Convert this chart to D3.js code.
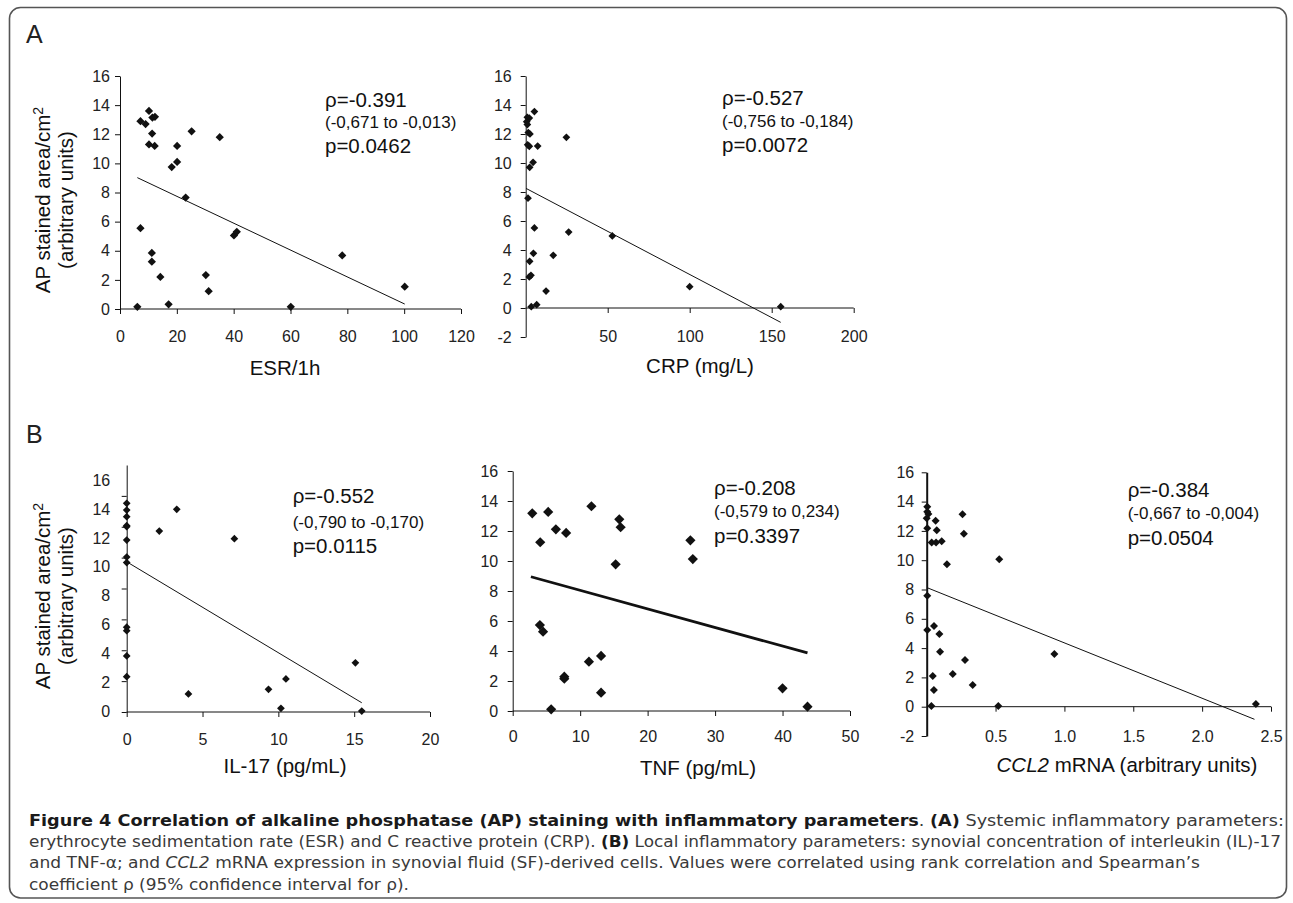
<!DOCTYPE html>
<html>
<head>
<meta charset="utf-8">
<script src="https://cdn.jsdelivr.net/npm/d3@7"></script>
<style>
  body { margin: 0; background: #fff; }
  svg text { font-family: "Liberation Sans", Arial, sans-serif; }
</style>
</head>
<body>
<svg id="fig" width="1293" height="903"></svg>
<script>
// values
const esrX = [6.1, 7.2, 9.0, 10.2, 11.4, 12.3, 11.3, 10.2, 12.2, 25.2, 20.1, 20.1, 18.2, 35.1, 23.1, 7.2, 40.1, 41.1, 11.2, 11.2, 14.2, 30.2, 31.2, 17.1, 60.1, 78.2, 100.2];
const esrY = [0.15, 12.9, 12.7, 13.6, 13.15, 13.2, 12.05, 11.3, 11.2, 12.2, 11.2, 10.1, 9.75, 11.8, 7.65, 5.55, 5.05, 5.3, 3.85, 3.25, 2.2, 2.33, 1.22, 0.32, 0.15, 3.68, 1.53];
const esrFit = [[6.1, 9.02], [100.2, 0.34]];
const esrStats = ["ρ=-0.391", "(-0,671 to -0,013)", "p=0.0462"];

const crpX = [1.0, 2.2, 0.6, 1.0, 5.3, 1.6, 2.6, 1.2, 2.2, 7.3, 24.8, 4.5, 2.4, 1.4, 5.3, 26.2, 52.8, 4.7, 16.8, 2.4, 2.2, 3.2, 12.4, 100, 6.7, 3.4, 155.5];
const crpY = [13.15, 13.1, 12.85, 12.65, 13.55, 12.1, 12.0, 11.25, 11.15, 11.17, 11.77, 10.05, 9.7, 7.57, 5.52, 5.24, 4.97, 3.77, 3.63, 3.22, 2.14, 2.25, 1.17, 1.47, 0.23, 0.09, 0.09];
const crpFit = [[0.2, 8.25], [155.5, -0.99]];
const crpStats = ["ρ=-0.527", "(-0,756 to -0,184)", "p=0.0072"];

const il17X = [0, 0, 0, 0, 0, 0, 0, 0, 0, 0, 0, 0, 2.15, 3.3, 7.1, 4.07, 9.35, 10.5, 10.17, 15.08, 15.5];
const il17Y = [13.52, 13.08, 12.65, 12.07, 12.0, 11.14, 10.04, 9.68, 5.49, 5.27, 3.63, 2.29, 11.72, 13.13, 11.23, 1.17, 1.47, 2.14, 0.24, 3.19, 0.06];
const il17Fit = [[0, 9.73], [15.5, 0.6]];
const il17Stats = ["ρ=-0.552", "(-0,790 to -0,170)", "p=0.0115"];

const tnfX = [2.9, 4.08, 5.26, 6.4, 7.92, 11.67, 15.8, 16.0, 15.26, 26.34, 26.7, 4.03, 4.5, 11.3, 13.1, 7.65, 7.65, 13.1, 5.7, 40.0, 43.7];
const tnfY = [13.18, 11.25, 13.27, 12.11, 11.87, 13.65, 12.78, 12.25, 9.78, 11.38, 10.13, 5.73, 5.29, 3.29, 3.67, 2.29, 2.15, 1.22, 0.11, 1.51, 0.29];
const tnfFit = [[2.7, 8.95], [43.7, 3.87]];
const tnfStats = ["ρ=-0.208", "(-0,579 to 0,234)", "p=0.3397"];

const ccl2X = [0.004, 0.004, 0.012, 0, 0.004, 0.065, 0.073, 0.036, 0.068, 0.109, 0.26, 0.27, 0.147, 0.527, 0.004, 0.004, 0.053, 0.092, 0.097, 0.278, 0.189, 0.044, 0.927, 0.052, 0.334, 0.034, 0.52, 2.39];
const ccl2Y = [13.65, 13.31, 13.15, 12.86, 12.18, 12.7, 12.04, 11.2, 11.2, 11.29, 13.13, 11.81, 9.72, 10.06, 7.58, 5.24, 5.51, 4.96, 3.75, 3.19, 2.23, 2.1, 3.6, 1.14, 1.48, 0.05, 0.05, 0.18];
const ccl2Fit = [[0.004, 8.12], [2.38, -0.86]];
const ccl2Stats = ["ρ=-0.384", "(-0,667 to -0,004)", "p=0.0504"];

const apTicks = [0, 2, 4, 6, 8, 10, 12, 14, 16];
const apTicksNeg = [-2, 0, 2, 4, 6, 8, 10, 12, 14, 16];
const esrTicks = [0, 20, 40, 60, 80, 100, 120];
const crpTicks = [50, 100, 150, 200];
const il17Ticks = [0, 5, 10, 15, 20];
const tnfTicks = [0, 10, 20, 30, 40, 50];
const ccl2Ticks = [0.5, 1.0, 1.5, 2.0, 2.5];

const caption = [
  [["Figure 4 Correlation of alkaline phosphatase (AP) staining with inflammatory parameters", "b"], [". ", ""], ["(A)", "b"], [" Systemic inflammatory parameters:", ""]],
  [["erythrocyte sedimentation rate (ESR) and C reactive protein (CRP). ", ""], ["(B)", "b"], [" Local inflammatory parameters: synovial concentration of interleukin (IL)-17", ""]],
  [["and TNF-α; and ", ""], ["CCL2", "i"], [" mRNA expression in synovial fluid (SF)-derived cells. Values were correlated using rank correlation and Spearman’s", ""]],
  [["coefficient ρ (95% confidence interval for ρ).", ""]]
];

const svg = d3.select("#fig");
svg.append("rect").attr("width", 1293).attr("height", 903).attr("fill", "#fff");
svg.append("rect")
  .attr("x", 9.5).attr("y", 7.5).attr("width", 1277).attr("height", 890.5)
  .attr("rx", 11).attr("fill", "none").attr("stroke", "#555").attr("stroke-width", 1.6);

svg.append("text").attr("x", 26).attr("y", 43).attr("font-size", 25).attr("fill", "#222").text("A");
svg.append("text").attr("x", 26).attr("y", 443).attr("font-size", 25).attr("fill", "#222").text("B");

// layout of each scatter panel
const panels = [
  { xs: esrX, ys: esrY, fit: esrFit, stats: esrStats, xTicks: esrTicks, yTicks: apTicks,
    xDomain: [0, 120], yDomain: [0, 16], xRange: [120, 461], yRange: [309, 76],
    xPad: 17, yPad: 5, xFmt: String, title: [["ESR/1h", ""]], titleX: 285, titleY: 375,
    statX: 325, statY: [106.7, 128.3, 152.7], marker: 34, fitW: 1, axisW: 1 },
  { xs: crpX, ys: crpY, fit: crpFit, stats: crpStats, xTicks: crpTicks, yTicks: apTicksNeg,
    xDomain: [0, 200], yDomain: [-2, 16], xRange: [525.7, 853.7], yRange: [337, 76],
    xPad: 18, yPad: 9, xFmt: String, title: [["CRP (mg/L)", ""]], titleX: 700, titleY: 373,
    statX: 722, statY: [105, 126.5, 151.7], marker: 30, fitW: 1, axisW: 1 },
  { xs: il17X, ys: il17Y, fit: il17Fit, stats: il17Stats, xTicks: il17Ticks, yTicks: apTicks.slice(0, 8),
    xDomain: [0, 20], yDomain: [0, 16], xRange: [126.7, 430], yRange: [712, 465],
    labelRange: [711.7, 480],
    xPad: 17, yPad: 11.5, xFmt: String, title: [["IL-17 (pg/mL)", ""]], titleX: 285, titleY: 773,
    statX: 292.7, statY: [503.3, 527.7, 553.3], marker: 30, fitW: 1, axisW: 1 },
  { xs: tnfX, ys: tnfY, fit: tnfFit, stats: tnfStats, xTicks: tnfTicks, yTicks: apTicks,
    xDomain: [0, 50], yDomain: [0, 16], xRange: [512.7, 850], yRange: [711, 471],
    xPad: 14.5, yPad: 9.5, xFmt: String, title: [["TNF (pg/mL)", ""]], titleX: 698, titleY: 775,
    statX: 714, statY: [495, 516.7, 543.3], marker: 52, fitW: 2.8, axisW: 1 },
  { xs: ccl2X, ys: ccl2Y, fit: ccl2Fit, stats: ccl2Stats, xTicks: ccl2Ticks, yTicks: apTicksNeg,
    xDomain: [0, 2.5], yDomain: [-2, 16], xRange: [926.7, 1271], yRange: [736, 472.3],
    xPad: 19, yPad: 7.5, xFmt: d3.format(".1f"),
    title: [["CCL2", "i"], [" mRNA (arbitrary units)", ""]], titleX: 1127, titleY: 772,
    statX: 1127.7, statY: [496.7, 519.3, 545], marker: 32, fitW: 1, axisW: 2 }
];

const diamond = (size) => d3.symbol(d3.symbolSquare, size);

panels.forEach((p) => {
  const x = d3.scaleLinear().domain(p.xDomain).range(p.xRange);
  const y = d3.scaleLinear().domain(p.yDomain).range(p.yRange);
  const g = svg.append("g");

  const yAxis = d3.axisLeft(y)
    .tickValues(p.yTicks)
    .tickSize(5)
    .tickSizeOuter(0)
    .tickPadding(p.yPad)
    .tickFormat(p.labelRange ? () => "" : String);
  const yg = g.append("g").attr("transform", `translate(${x(0)},0)`).call(yAxis);

  if (p.labelRange) {
    // tick labels in this panel sit on their own spacing
    const ly = d3.scaleLinear().domain([0, 16]).range(p.labelRange);
    g.selectAll("text.ylab")
      .data(apTicks)
      .enter()
      .append("text")
      .attr("class", "ylab")
      .attr("x", x(0) - 5 - p.yPad)
      .attr("y", (d) => ly(d))
      .attr("dy", "0.35em")
      .attr("text-anchor", "end")
      .text((d) => d);
  }

  const xAxis = d3.axisBottom(x)
    .tickValues(p.xTicks)
    .tickSize(5)
    .tickSizeOuter(0)
    .tickPadding(p.xPad)
    .tickFormat(p.xFmt);
  const xg = g.append("g").attr("transform", `translate(0,${y(0)})`).call(xAxis);
  xg.select(".domain").attr("d", `M${p.xRange[0]},0H${p.xRange[1]}`);

  [yg, xg].forEach((a) => {
    a.attr("font-family", null).attr("font-size", null);
    a.selectAll("path, line").attr("stroke", "#111").attr("stroke-width", 1);
    a.selectAll("text").attr("fill", "#222");
  });
  yg.select(".domain").attr("stroke-width", p.axisW);
  g.selectAll("text").attr("font-size", 16).attr("fill", "#222");

  // trend line
  g.append("line")
    .attr("x1", x(p.fit[0][0])).attr("y1", y(p.fit[0][1]))
    .attr("x2", x(p.fit[1][0])).attr("y2", y(p.fit[1][1]))
    .attr("stroke", "#111")
    .attr("stroke-width", p.fitW);

  // points
  g.selectAll("path.pt")
    .data(p.xs.map((v, i) => [v, p.ys[i]]))
    .enter()
    .append("path")
    .attr("class", "pt")
    .attr("d", diamond(p.marker))
    .attr("transform", (d) => `translate(${x(d[0])},${y(d[1])}) rotate(45)`)
    .attr("fill", "#111");

  // correlation text
  const sizes = [20.5, 17, 20.5];
  p.stats.forEach((s, i) => {
    g.append("text")
      .attr("x", p.statX)
      .attr("y", p.statY[i])
      .attr("font-size", sizes[i])
      .attr("fill", "#111")
      .text(s);
  });

  // axis title
  const t = g.append("text")
    .attr("x", p.titleX)
    .attr("y", p.titleY)
    .attr("text-anchor", "middle")
    .attr("font-size", 20.5)
    .attr("fill", "#111");
  p.title.forEach((seg) => {
    t.append("tspan").attr("font-style", seg[1] === "i" ? "italic" : null).text(seg[0]);
  });
});

// y titles of the rows
[[50, 73, 200], [50, 73, 596]].forEach((pos) => {
  const t1 = svg.append("text")
    .attr("transform", `translate(${pos[0]},${pos[2]}) rotate(-90)`)
    .attr("text-anchor", "middle")
    .attr("font-size", 20.5)
    .attr("fill", "#111");
  t1.append("tspan").text("AP stained area/cm");
  t1.append("tspan").attr("font-size", 14).attr("dy", -7).text("2");
  svg.append("text")
    .attr("transform", `translate(${pos[1]},${pos[2]}) rotate(-90)`)
    .attr("text-anchor", "middle")
    .attr("font-size", 20.5)
    .attr("fill", "#111")
    .text("(arbitrary units)");
});

// caption
const capY = [825.7, 846.7, 868.3, 890];
const capW = [1255, 1252, 1171, 380];
caption.forEach((line, i) => {
  const t = svg.append("text")
    .attr("x", 29)
    .attr("y", capY[i])
    .attr("font-size", 15.5)
    .attr("textLength", capW[i])
    .attr("lengthAdjust", "spacingAndGlyphs")
    .style("font-family", '"Liberation Sans Narrow", "DejaVu Sans Condensed", "Liberation Sans", sans-serif');
  line.forEach((seg) => {
    t.append("tspan")
      .attr("font-weight", seg[1] === "b" ? "bold" : null)
      .attr("font-style", seg[1] === "i" ? "italic" : null)
      .attr("fill", seg[1] === "b" ? "#1a1a1a" : "#3a3a3a")
      .text(seg[0]);
  });
});
</script>
</body>
</html>
